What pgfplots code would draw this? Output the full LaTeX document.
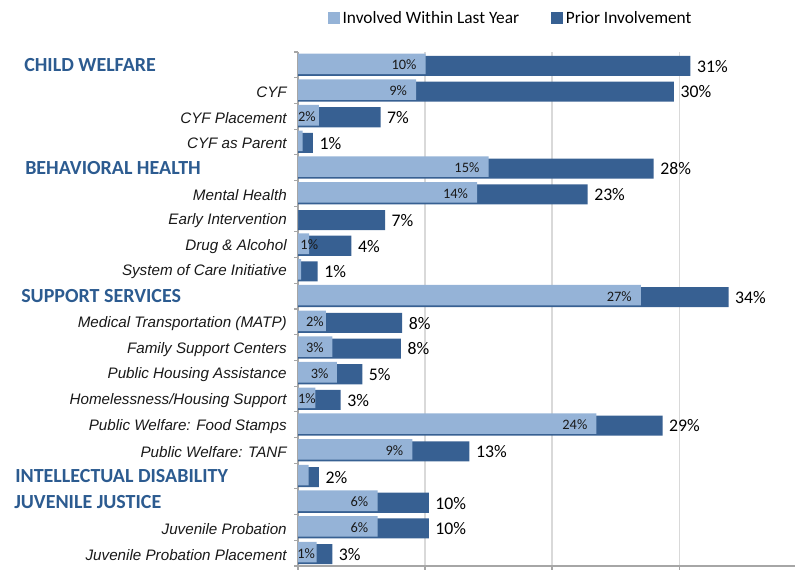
\documentclass[border=0pt]{standalone}
\usepackage{pgfplots}
\pgfplotsset{compat=1.18}
\usepackage{pgfplotstable}
\usepackage{fontspec}
\setmainfont{Carlito}
\newfontfamily\arialf{Liberation Sans}
\definecolor{lightc}{HTML}{95B3D7}
\definecolor{darkc}{HTML}{376092}
\definecolor{headc}{HTML}{2C5B90}
\definecolor{axisc}{HTML}{A6A6A6}
\definecolor{gridc}{HTML}{D9D9D9}

\pgfplotstableread{
row light total totlab
1 10.05 30.9 31
2 9.3 29.6 30
3 1.65 6.5 7
4 0.37 1.18 1
5 15.0 28.0 28
6 14.1 22.8 23
7 0 6.85 7
8 0.87 4.2 4
9 0.24 1.55 1
10 27.0 33.9 34
11 2.2 8.2 8
12 2.7 8.1 8
13 3.07 5.06 5
14 1.36 3.36 3
15 23.5 28.7 29
16 9.0 13.5 13
17 0.84 1.65 2
18 6.27 10.3 10
19 6.27 10.3 10
20 1.47 2.7 3
}\bars

\pgfplotstableread{
row lx lab
1 9.35 10
2 8.6 9
3 1.42 2
5 14.3 15
6 13.4 14
8 1.6 1
10 26.3 27
11 2.05 2
12 2.05 3
13 2.42 3
14 1.42 1
15 22.8 24
16 8.3 9
18 5.54 6
19 5.54 6
20 1.36 1
}\innerlab

\begin{document}
\begin{tikzpicture}
\path[use as bounding box] (0,0) rectangle (596.25pt,426.75pt);
\begin{axis}[
  at={(223.5pt,2.25pt)}, anchor=south west,
  scale only axis, width=372.75pt, height=385.5pt,
  xmin=0, xmax=39.13, ymin=0.5, ymax=20.5, y dir=reverse,
  clip=false,
  axis x line*=bottom, axis y line*=left,
  axis line style={draw=axisc, line width=0.8pt},
  xtick={0,10,20,30}, xticklabels={},
  xmajorgrids, grid style={draw=gridc, line width=0.8pt},
  tick align=outside,
  major tick length=3pt, minor tick length=3pt,
  every major x tick/.style={draw=axisc, line width=0.8pt},
  every major y tick/.style={draw=none},
  every minor y tick/.style={draw=axisc, line width=0.8pt},
  ytick={1,...,20},
  minor ytick={0.5,1.5,...,20.5},
  yticklabels={{},CYF,CYF Placement,CYF as Parent,{},Mental Health,Early Intervention,Drug \& Alcohol,System of Care Initiative,{},Medical Transportation (MATP),Family Support Centers,Public Housing Assistance,Homelessness/Housing Support,Public Welfare: Food Stamps,Public Welfare: TANF,{},{},Juvenile Probation,Juvenile Probation Placement},
  yticklabel style={font=\arialf\itshape\fontsize{11.4}{12}\selectfont, text=black!90, inner sep=0pt, xshift=-5.25pt, yshift=-1.2pt},
  legend style={at={(0.4286,1.066)}, anchor=center, draw=none, fill=none,
    font=\fontsize{13}{14}\selectfont, inner sep=0pt,
    /tikz/every even column/.append style={column sep=22pt}},
  legend columns=2,
  legend image code/.code={\fill[#1] (0pt,-4.5pt) rectangle (9pt,4.5pt);},
]
\addplot[xbar, bar width=0.78, bar shift=0pt, fill=darkc, draw=none, yshift=-0.75pt, forget plot] table[x=total,y=row]{\bars};
\addplot[xbar, bar width=0.80, bar shift=0pt, fill=lightc, draw=none, yshift=0.75pt, forget plot] table[x=light,y=row]{\bars};

\addplot[only marks, mark=*, mark size=0pt, mark options={draw=none,fill=none}, forget plot,
  nodes near coords={\pgfplotspointmeta\%}, point meta=explicit symbolic,
  every node near coord/.append style={anchor=east, inner sep=0pt, font=\fontsize{10.8}{11}\selectfont, text=black!90}]
  table[x=lx,y=row,meta=lab]{\innerlab};

\addplot[only marks, mark=*, mark size=0pt, mark options={draw=none,fill=none}, forget plot,
  nodes near coords={\pgfplotspointmeta\%}, point meta=explicit symbolic,
  every node near coord/.append style={anchor=west, inner sep=0pt, xshift=4.8pt, yshift=-1pt, font=\fontsize{13.3}{14}\selectfont, text=black}]
  table[x=total,y=row,meta=totlab]{\bars};

\addlegendimage{fill=lightc, draw=none}
\addlegendentry{Involved Within Last Year}
\addlegendimage{fill=darkc, draw=none}
\addlegendentry{Prior Involvement}

\node[anchor=west, inner sep=0pt, xshift=-205.5pt, font=\bfseries\fontsize{15}{16}\selectfont, text=headc] at (axis cs:0,1) {CHILD WELFARE};
\node[anchor=west, inner sep=0pt, xshift=-204.75pt, font=\bfseries\fontsize{15}{16}\selectfont, text=headc] at (axis cs:0,5) {BEHAVIORAL HEALTH};
\node[anchor=west, inner sep=0pt, xshift=-207.75pt, font=\bfseries\fontsize{15}{16}\selectfont, text=headc] at (axis cs:0,10) {SUPPORT SERVICES};
\node[anchor=west, inner sep=0pt, xshift=-212.25pt, font=\bfseries\fontsize{15}{16}\selectfont, text=headc] at (axis cs:0,17) {INTELLECTUAL DISABILITY};
\node[anchor=west, inner sep=0pt, xshift=-213pt, font=\bfseries\fontsize{15}{16}\selectfont, text=headc] at (axis cs:0,18) {JUVENILE JUSTICE};
\end{axis}
\end{tikzpicture}
\end{document}
